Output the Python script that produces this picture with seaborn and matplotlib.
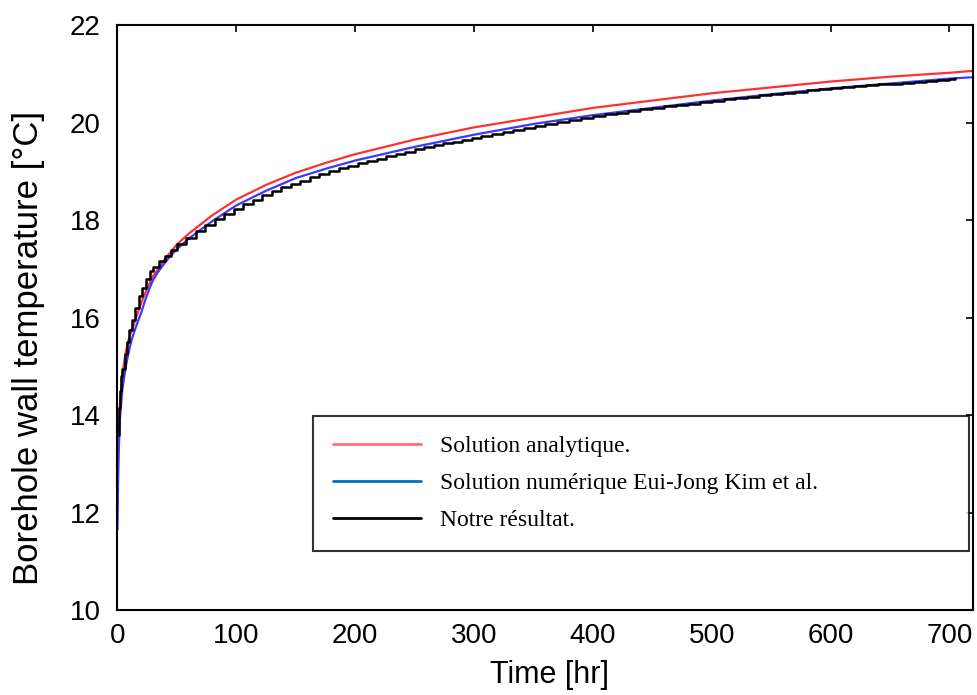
import numpy as np
import pandas as pd
import matplotlib
matplotlib.use("Agg")
import matplotlib.pyplot as plt
import seaborn as sns

# ---- data ----
t_analytic = [0, 0.5, 1, 2, 4, 7, 10, 15, 20, 25, 30, 40, 50, 60, 80, 100, 125, 150, 175,
              200, 250, 300, 350, 400, 450, 500, 550, 600, 650, 700, 720]
T_analytic = [12.2, 13.0, 13.6, 14.2, 14.8, 15.3, 15.6, 15.95, 16.3, 16.6, 16.85, 17.2, 17.5,
              17.72, 18.1, 18.42, 18.72, 18.97, 19.17, 19.35, 19.65, 19.9, 20.1, 20.3, 20.45,
              20.6, 20.72, 20.84, 20.94, 21.02, 21.06]

t_numeric = [0, 0.5, 1, 2, 4, 7, 10, 12, 15, 17.5, 20, 23, 27, 30, 34, 38.6, 44, 50, 60, 80,
             100, 125, 150, 175, 200, 250, 300, 350, 400, 450, 500, 550, 600, 650, 700, 720]
T_numeric = [11.65, 12.6, 13.2, 13.9, 14.5, 15.0, 15.35, 15.55, 15.77, 15.94, 16.1, 16.33,
             16.6, 16.77, 16.93, 17.08, 17.25, 17.4, 17.62, 17.98, 18.3, 18.6, 18.86, 19.05,
             19.22, 19.5, 19.75, 19.97, 20.15, 20.3, 20.45, 20.58, 20.7, 20.8, 20.9, 20.93]

t_ours = [0, 1, 2, 3, 4, 6, 8, 10, 12, 15, 18, 21, 24, 27, 30, 35, 40, 45, 50, 58, 66, 74, 82,
          90, 98, 106, 114, 122, 130, 138, 146, 154, 162, 170, 178, 186, 194, 202, 210, 218,
          226, 234, 242, 250, 258, 266, 274, 282, 290, 298, 306, 315, 324, 333, 342, 351, 360,
          370, 380, 390, 400, 410, 420, 430, 440, 450, 460, 470, 480, 490, 500, 510, 520, 530,
          540, 550, 560, 570, 580, 590, 600, 610, 620, 630, 640, 650, 660, 670, 680, 690, 700,
          705]
T_ours = [13.6, 14.15, 14.5, 14.8, 14.95, 15.25, 15.5, 15.75, 15.95, 16.2, 16.45, 16.6, 16.8,
          16.95, 17.04, 17.15, 17.27, 17.38, 17.5, 17.64, 17.77, 17.9, 18.02, 18.13, 18.23,
          18.33, 18.42, 18.51, 18.59, 18.67, 18.74, 18.81, 18.88, 18.94, 19.0, 19.06, 19.11,
          19.16, 19.21, 19.26, 19.31, 19.36, 19.4, 19.45, 19.49, 19.53, 19.57, 19.61, 19.65,
          19.69, 19.73, 19.77, 19.81, 19.85, 19.89, 19.93, 19.97, 20.01, 20.05, 20.09, 20.13,
          20.17, 20.2, 20.24, 20.27, 20.3, 20.33, 20.36, 20.39, 20.42, 20.45, 20.48, 20.51,
          20.53, 20.56, 20.58, 20.61, 20.63, 20.66, 20.68, 20.7, 20.72, 20.74, 20.76, 20.78,
          20.8, 20.82, 20.84, 20.86, 20.88, 20.9, 20.91]

labels = ["Solution analytique.", "Solution numérique Eui-Jong Kim et al.", "Notre résultat."]
x_ticks = [0, 100, 200, 300, 400, 500, 600, 700]
y_ticks = [10, 12, 14, 16, 18, 20, 22]

# ---- plot ----
sns.set_style("white")
plt.rcParams["font.family"] = ["Liberation Sans", "DejaVu Sans"]
plt.rcParams["text.color"] = "black"
plt.rcParams["axes.labelcolor"] = "black"
plt.rcParams["xtick.color"] = "black"
plt.rcParams["ytick.color"] = "black"

fig = plt.figure(figsize=(9.78, 6.95), dpi=100)
ax = fig.add_axes([0.1201, 0.1223, 0.995 - 0.1201, 0.964 - 0.1223])

df_a = pd.DataFrame({"t": t_analytic, "T": T_analytic})
df_n = pd.DataFrame({"t": t_numeric, "T": T_numeric})
df_o = pd.DataFrame({"t": t_ours, "T": T_ours})

sns.lineplot(data=df_a, x="t", y="T", ax=ax, color="#ff3030", lw=1.6, label=labels[0])
sns.lineplot(data=df_n, x="t", y="T", ax=ax, color="#3a3aff", lw=1.6, label=labels[1])
sns.lineplot(data=df_o, x="t", y="T", ax=ax, color="black", lw=1.8, label=labels[2],
             drawstyle="steps-post")

ax.set_xlim(0, 720)
ax.set_ylim(10, 22)
ax.set_xticks(x_ticks)
ax.set_yticks(y_ticks)
ax.tick_params(direction="in", length=5, width=1.2, labelsize=20, top=True, right=True,
               colors="black")
ax.tick_params(axis="x", pad=9)
ax.tick_params(axis="y", pad=12)
ax.set_xticklabels([str(v) for v in x_ticks])
ax.set_yticklabels([str(v) for v in y_ticks])
for s in ax.spines.values():
    s.set_visible(True)
    s.set_color("black")
    s.set_linewidth(1.5)

ax.set_xlabel("Time [hr]", fontsize=22, color="black")
ax.set_ylabel("Borehole wall temperature [°C]", fontsize=25, color="black")
ax.xaxis.set_label_coords(0.505, -0.085)
ax.yaxis.set_label_coords(-0.085, 0.448)

leg = ax.legend(loc="upper left", bbox_to_anchor=(0.2285, 0.332, 0.995 - 0.2285, 0.0),
                mode="expand", frameon=True, fancybox=False, borderpad=0.85,
                prop={"family": "Liberation Serif", "size": 17}, handlelength=3.73,
                handletextpad=0.8, labelspacing=0.65, borderaxespad=0)
leg.get_frame().set_edgecolor("black")
leg.get_frame().set_linewidth(1.5)
for txt in leg.get_texts():
    txt.set_color("black")
leg_colors = ["#ff7070", "#0070c0", "black"]
for line, c in zip(leg.get_lines(), leg_colors):
    line.set_color(c)
    line.set_linewidth(2)

fig.savefig("out.png", dpi=100)
